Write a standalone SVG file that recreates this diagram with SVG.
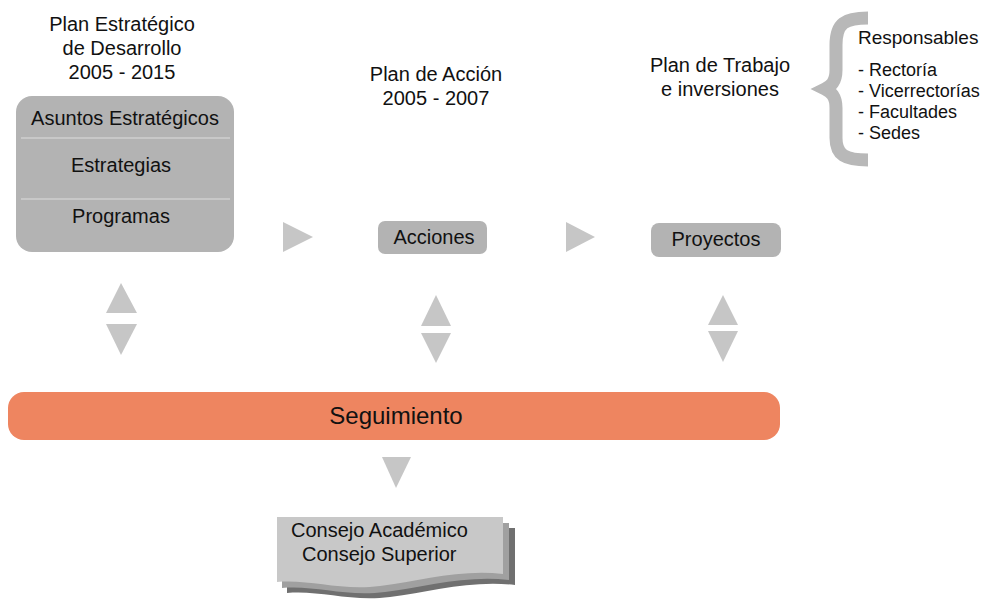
<svg xmlns="http://www.w3.org/2000/svg" width="986" height="601" viewBox="0 0 986 601">
<style>
text{font-family:"Liberation Sans",Arial,sans-serif;fill:#111;}
.t20{font-size:20px;}
.t19{font-size:19px;}
.t18{font-size:18px;}
.c{text-anchor:middle;}
.box{fill:#b3b3b3;}
.arr{fill:#c6c6c6;}
</style>
<rect width="986" height="601" fill="#fff"/>
<g id="title-ped">
<text class="t20 c" x="122" y="31">Plan Estratégico</text>
<text class="t20 c" x="122" y="55">de Desarrollo</text>
<text class="t20 c" x="122" y="79">2005 - 2015</text>
</g>
<g id="title-pa">
<text class="t20 c" x="436" y="81">Plan de Acción</text>
<text class="t20 c" x="436" y="105">2005 - 2007</text>
</g>
<g id="title-pt">
<text class="t20 c" x="720" y="72">Plan de Trabajo</text>
<text class="t20 c" x="720" y="96">e inversiones</text>
</g>
<g id="responsables">
<path d="M868,18 C845,18 836,23 836,45 L836,70 C836,82 831,86 825,89 C831,92 836,96 836,108 L836,138 C836,155 845,160 868,160" fill="none" stroke="#b8b8b8" stroke-width="13"/>
<text class="t19" x="858" y="44">Responsables</text>
<text class="t18" x="858" y="76">- Rectoría</text>
<text class="t18" x="858" y="97">- Vicerrectorías</text>
<text class="t18" x="858" y="118">- Facultades</text>
<text class="t18" x="858" y="139">- Sedes</text>
</g>
<g id="ped-box">
<rect class="box" x="16" y="96" width="218" height="156" rx="16"/>
<line x1="21" y1="138" x2="230" y2="138" stroke="#cfcfcf" stroke-width="1.5"/>
<line x1="21" y1="199" x2="230" y2="199" stroke="#cfcfcf" stroke-width="1.5"/>
<text class="t20 c" x="125" y="125">Asuntos Estratégicos</text>
<text class="t20 c" x="121" y="172">Estrategias</text>
<text class="t20 c" x="121" y="223">Programas</text>
</g>
<g id="acciones">
<rect class="box" x="378" y="221" width="109" height="33" rx="7"/>
<text class="t20 c" x="434" y="244">Acciones</text>
</g>
<g id="proyectos">
<rect class="box" x="651" y="223" width="130" height="34" rx="8"/>
<text class="t20 c" x="716" y="246">Proyectos</text>
</g>
<g id="seguimiento">
<rect x="8" y="392" width="772" height="48" rx="16" fill="#ee8560"/>
<text class="c" x="396" y="424" style="font-size:24px">Seguimiento</text>
</g>
<g id="consejo">
<path d="M287,528 L515,528 L515,585 C470,580 430,592 390,597 C350,602 320,590 287,593 Z" fill="#707070"/>
<path d="M282,523 L509,523 L509,580 C465,575 425,587 385,592 C345,597 315,585 282,588 Z" fill="#a0a0a0"/>
<path d="M277,517 L503,517 L503,574 C460,569 420,581 380,586 C340,591 310,579 277,582 Z" fill="#c8c8c8"/>
<text class="t20" x="291" y="537">Consejo Académico</text>
<text class="t20" x="302" y="561">Consejo Superior</text>
</g>
<g id="connectors">
<polygon class="arr" points="283,222 313,237 283,252"/>
<polygon class="arr" points="566,222 595,237 566,252"/>
<polygon class="arr" points="121,283 137,313 106,313"/>
<polygon class="arr" points="106,324 137,324 121,355"/>
<polygon class="arr" points="436,295 451,326 421,326"/>
<polygon class="arr" points="421,333 451,333 436,363"/>
<polygon class="arr" points="723,295 738,325 708,325"/>
<polygon class="arr" points="708,331 738,331 723,362"/>
<polygon class="arr" points="382,457 411,457 396,488"/>
</g>
</svg>
